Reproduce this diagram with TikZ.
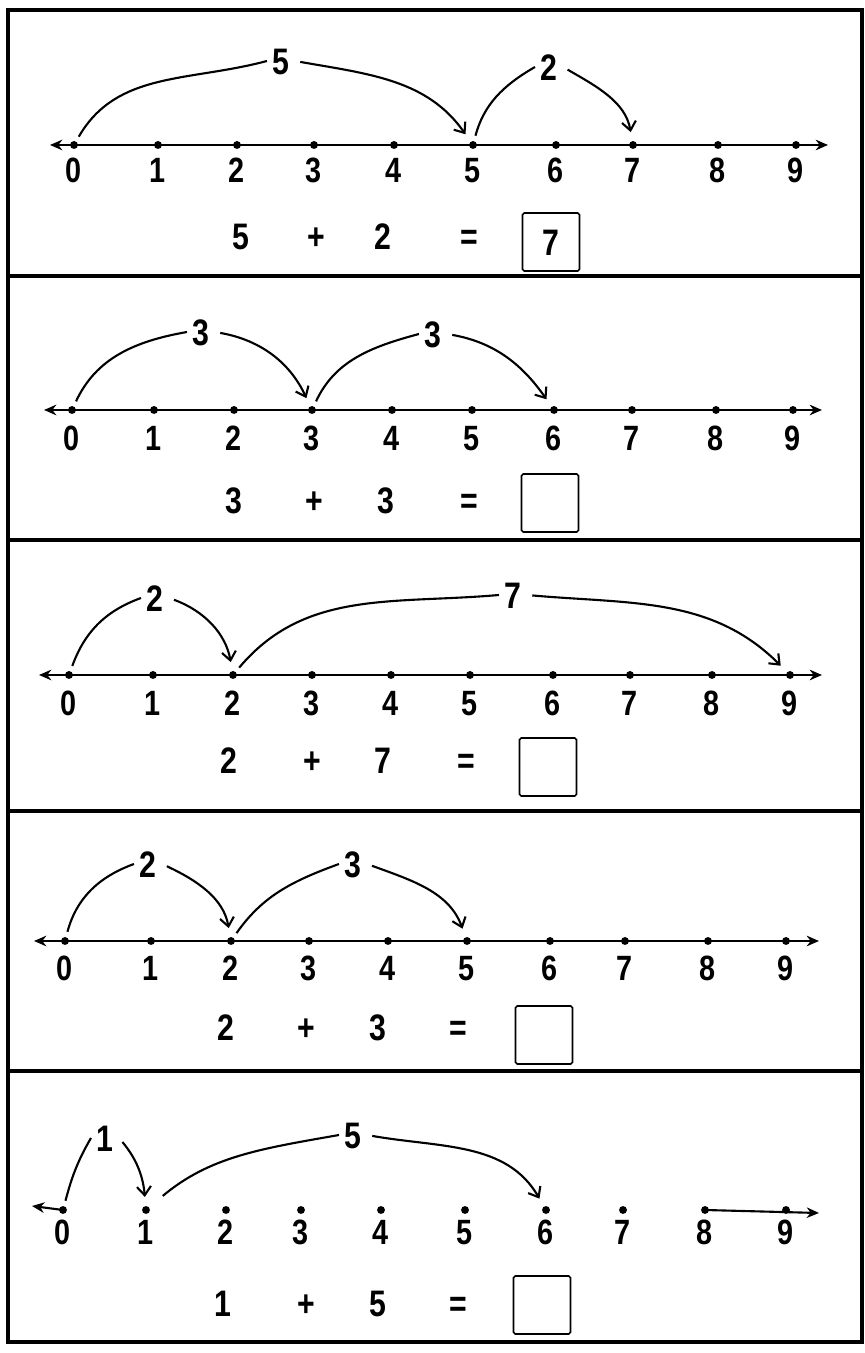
\documentclass[tikz,border=0pt]{standalone}
\usepackage{fontspec}
\setmainfont{Liberation Sans}
\newfontfamily\handfont[FakeStretch=0.82]{Liberation Sans Bold}
\usetikzlibrary{arrows.meta}

\def\xunit{0.02cm}
\def\yunit{0.02cm}

\tikzset{
  tick/.style={circle, fill=black, inner sep=0pt, minimum size=4.5pt},
  ticknum/.style={inner sep=1pt, text height=14.3pt, text depth=0pt, font=\handfont\fontsize{20}{20}\selectfont},
  numline/.style={line width=1.2pt, {Stealth[length=7pt,width=6pt]}-{Stealth[length=7pt,width=6pt]}},
  halfline/.style={line width=1.2pt, -{Stealth[length=7pt,width=6pt]}},
  hop/.style={line width=1.2pt, shorten <=3pt},
  hopto/.style={hop, -{Straight Barb[length=5pt,width=8pt]}, shorten >=5pt},
  hoplabel/.style={inner sep=3pt, text height=15pt, text depth=0pt, font=\handfont\fontsize{21}{21}\selectfont},
  sumtext/.style={inner sep=2pt, text height=15pt, text depth=0pt, font=\handfont\fontsize{21}{21}\selectfont},
  answer/.style={draw, line width=0.9pt, rounded corners=1pt, minimum width=1.14cm, minimum height=1.16cm, inner sep=0pt},
}

\begin{document}
\begin{tikzpicture}[x=\xunit, y=\yunit]
\useasboundingbox (0,0) rectangle (865,1353);

% ---- outer frame and panel rules ----
\draw[line width=2.8pt] (8,11) rectangle (862,1343);
\draw[line width=2.2pt] (8,1077) -- (862,1077);
\draw[line width=2.2pt] (8,813) -- (862,813);
\draw[line width=2.2pt] (8,542) -- (862,542);
\draw[line width=2.2pt] (8,282) -- (862,282);

% ---- Panel 1: 5 + 2, line at y=1208 ----
\foreach \x [count=\i from 0] in {74,158,237,314,394,473,556,633,718,796} {
  \node[tick] (a\i) at (\x,1208) {};
  \node[ticknum] (na\i) at (\x,1183) {\i};
}
\coordinate (aL) at (50,1208);
\coordinate (aR) at (828,1208);
\draw[numline] (aL) -- (aR);
\node[hoplabel] (ah1) at (281,1292) {5};
\node[hoplabel] (ah2) at (549,1286) {2};
\draw[hop] (a0) to[out=60, in=195] (ah1.west);
\draw[hopto] (ah1.east) to[out=-10, in=125] (a5);
\draw[hop] (a5) to[out=75, in=210] (ah2.west);
\draw[hopto] (ah2.east) to[out=-30, in=100] (a7);
\node[sumtext] (aA) at (241,1117) {5};
\node[sumtext] (aP) at (316,1117) {+};
\node[sumtext] (aB) at (383,1117) {2};
\node[sumtext] (aE) at (469,1117) {=};
\node[answer, sumtext] (aS) at (551,1111) {7};

% ---- Panel 2: 3 + 3, line at y=943 ----
\foreach \x [count=\i from 0] in {72,154,234,312,392,472,554,632,716,793} {
  \node[tick] (b\i) at (\x,943) {};
  \node[ticknum] (nb\i) at (\x,915) {\i};
}
\coordinate (bL) at (44,943);
\coordinate (bR) at (822,943);
\draw[numline] (bL) -- (bR);
\node[hoplabel] (bh1) at (201,1021) {3};
\node[hoplabel] (bh2) at (433,1019) {3};
\draw[hop] (b0) to[out=65, in=190] (bh1.west);
\draw[hopto] (bh1.east) to[out=-10, in=115] (b3);
\draw[hop] (b3) to[out=65, in=195] (bh2.west);
\draw[hopto] (bh2.east) to[out=-10, in=125] (b6);
\node[sumtext] (bA) at (234,853) {3};
\node[sumtext] (bP) at (314,853) {+};
\node[sumtext] (bB) at (386,853) {3};
\node[sumtext] (bE) at (469,853) {=};
\node[answer] (bS) at (550,850) {};

% ---- Panel 3: 2 + 7, line at y=678 ----
\foreach \x [count=\i from 0] in {69,153,233,312,391,470,553,630,712,790} {
  \node[tick] (c\i) at (\x,678) {};
  \node[ticknum] (nc\i) at (\x,650) {\i};
}
\coordinate (cL) at (39,678);
\coordinate (cR) at (822,678);
\draw[numline] (cL) -- (cR);
\node[hoplabel] (ch1) at (155,755) {2};
\node[hoplabel] (ch2) at (513,758) {7};
\draw[hop] (c0) to[out=70, in=200] (ch1.west);
\draw[hopto] (ch1.east) to[out=-20, in=100] (c2);
\draw[hop] (c2) to[out=50, in=185] (ch2.west);
\draw[hopto] (ch2.east) to[out=-5, in=135] (c9);
\node[sumtext] (cA) at (229,593) {2};
\node[sumtext] (cP) at (312,593) {+};
\node[sumtext] (cB) at (383,593) {7};
\node[sumtext] (cE) at (466,593) {=};
\node[answer] (cS) at (548,586) {};

% ---- Panel 4: 2 + 3, line at y=412 ----
\foreach \x [count=\i from 0] in {65,151,231,309,388,467,550,625,708,786} {
  \node[tick] (d\i) at (\x,412) {};
  \node[ticknum] (nd\i) at (\x,385) {\i};
}
\coordinate (dL) at (34,412);
\coordinate (dR) at (819,412);
\draw[numline] (dL) -- (dR);
\node[hoplabel] (dh1) at (148,489) {2};
\node[hoplabel] (dh2) at (353,489) {3};
\draw[hop] (d0) to[out=75, in=200] (dh1.west);
\draw[hopto] (dh1.east) to[out=-25, in=100] (d2);
\draw[hop] (d2) to[out=55, in=200] (dh2.west);
\draw[hopto] (dh2.east) to[out=-20, in=110] (d5);
\node[sumtext] (dA) at (226,326) {2};
\node[sumtext] (dP) at (306,326) {+};
\node[sumtext] (dB) at (378,326) {3};
\node[sumtext] (dE) at (458,326) {=};
\node[answer] (dS) at (544,318) {};

% ---- Panel 5: 1 + 5, dots at y=143 ----
\foreach \x [count=\i from 0] in {63,146,226,301,381,465,546,623,705,786} {
  \node[tick] (e\i) at (\x,143) {};
  \node[ticknum] (ne\i) at (\x,121) {\i};
}
\coordinate (eL) at (32,147);
\coordinate (eR) at (819,140);
\draw[halfline] (e0.center) -- (eL);
\draw[halfline] (e8.center) -- (eR);
\node[hoplabel] (eh1) at (105,215) {1};
\node[hoplabel] (eh2) at (353,218) {5};
\draw[hop] (e0) to[out=75, in=240] (eh1.west);
\draw[hopto] (eh1.east) to[out=-50, in=95] (e1);
\draw[hop, shorten <=10pt] (e1) to[out=40, in=190] (eh2.west);
\draw[hopto] (eh2.east) to[out=-10, in=120] (e6);
\node[sumtext] (eA) at (223,50) {1};
\node[sumtext] (eP) at (306,50) {+};
\node[sumtext] (eB) at (378,50) {5};
\node[sumtext] (eE) at (458,50) {=};
\node[answer] (eS) at (542,48) {};

\end{tikzpicture}
\end{document}
